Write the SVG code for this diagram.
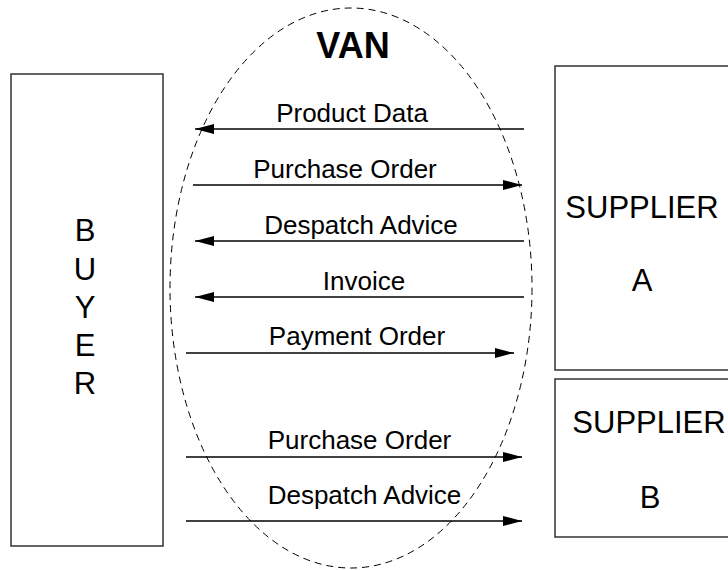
<svg xmlns="http://www.w3.org/2000/svg" width="728" height="570" viewBox="0 0 728 570">
  <defs>
    <marker id="head" markerWidth="19" markerHeight="10" refX="19" refY="5" orient="auto" markerUnits="userSpaceOnUse">
      <path d="M0,0 L19,5 L0,10 Z" fill="#000"/>
    </marker>
    <style>
      .box { fill: #fff; stroke: #333; stroke-width: 1.5; }
      .van { fill: none; stroke: #000; stroke-width: 1; stroke-dasharray: 7 5; }
      .msg { stroke: #000; stroke-width: 1.4; fill: none; marker-end: url(#head); }
      .lbl { font-family: "Liberation Sans", Arial, sans-serif; font-size: 26px; fill: #000; text-anchor: middle; }
      .name { font-family: "Liberation Sans", Arial, sans-serif; font-size: 31px; fill: #000; text-anchor: middle; }
      .title { font-family: "Liberation Sans", Arial, sans-serif; font-size: 36px; font-weight: bold; fill: #000; text-anchor: middle; }
    </style>
  </defs>
  <rect width="728" height="570" fill="#fff"/>

  <!-- value added network boundary -->
  <g id="van">
    <ellipse class="van" cx="351" cy="288" rx="181" ry="280"/>
    <text class="title" x="353" y="58">VAN</text>
  </g>

  <g id="buyer">
    <rect class="box" x="11" y="74" width="152" height="472"/>
    <text class="name" x="85" y="241">B</text>
    <text class="name" x="85" y="280">U</text>
    <text class="name" x="85" y="318">Y</text>
    <text class="name" x="85" y="356">E</text>
    <text class="name" x="85" y="394">R</text>
  </g>

  <g id="supplier-a">
    <rect class="box" x="555" y="66" width="190" height="304"/>
    <text class="name" x="642" y="218">SUPPLIER</text>
    <text class="name" x="642" y="291">A</text>
  </g>

  <g id="supplier-b">
    <rect class="box" x="555" y="379" width="190" height="158"/>
    <text class="name" x="649" y="433">SUPPLIER</text>
    <text class="name" x="650" y="508">B</text>
  </g>

  <!-- message flows -->
  <g id="connectors">
    <line class="msg" x1="524" y1="129" x2="195" y2="129"/>
    <text class="lbl" x="352" y="121.5">Product Data</text>

    <line class="msg" x1="193" y1="185" x2="522" y2="185"/>
    <text class="lbl" x="345" y="177.5">Purchase Order</text>

    <line class="msg" x1="524" y1="241" x2="195" y2="241"/>
    <text class="lbl" x="361" y="233.5">Despatch Advice</text>

    <line class="msg" x1="524" y1="297" x2="195" y2="297"/>
    <text class="lbl" x="364" y="289.5">Invoice</text>

    <line class="msg" x1="186" y1="353" x2="514" y2="353"/>
    <text class="lbl" x="357" y="345">Payment Order</text>

    <line class="msg" x1="186" y1="457" x2="522" y2="457"/>
    <text class="lbl" x="359.5" y="448.5">Purchase Order</text>

    <line class="msg" x1="186" y1="521" x2="522" y2="521"/>
    <text class="lbl" x="364.5" y="503.5">Despatch Advice</text>
  </g>
</svg>
